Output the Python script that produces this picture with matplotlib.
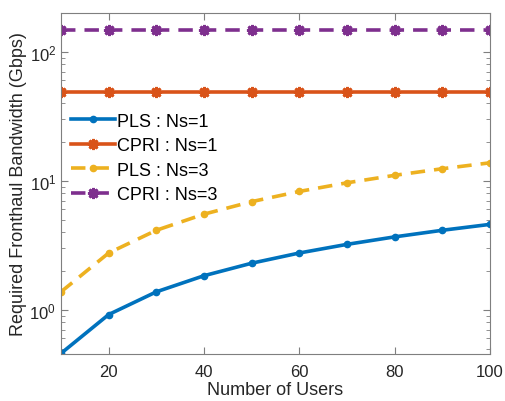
import matplotlib
matplotlib.use("Agg")
import matplotlib.pyplot as plt
from matplotlib.ticker import LogLocator, NullFormatter, NullLocator

plt.rcParams["font.family"] = ["Liberation Sans", "DejaVu Sans"]
plt.rcParams["mathtext.fontset"] = "custom"
plt.rcParams["mathtext.rm"] = "Liberation Sans"
plt.rcParams["mathtext.it"] = "Liberation Sans:italic"

users = [10, 20, 30, 40, 50, 60, 70, 80, 90, 100]
pls_ns1 = [0.46, 0.92, 1.38, 1.84, 2.30, 2.76, 3.22, 3.68, 4.14, 4.60]
cpri_ns1 = [49.2] * 10
pls_ns3 = [1.38, 2.76, 4.14, 5.52, 6.90, 8.28, 9.66, 11.04, 12.42, 13.80]
cpri_ns3 = [147.5] * 10
labels = ["PLS : Ns=1", "CPRI : Ns=1", "PLS : Ns=3", "CPRI : Ns=3"]

fig = plt.figure(figsize=(5.06, 4.02), dpi=100)
ax = fig.add_axes([61/506, 1 - 355/402, (490-61)/506, (355-14)/402])

star = (8, 2, 0)
ax.plot(users, pls_ns1, color="#0072BD", lw=2.6, marker=".", ms=9, label=labels[0])
ax.plot(users, cpri_ns1, color="#D95319", lw=2.6, marker=star, ms=8, mew=2, label=labels[1])
ax.plot(users, pls_ns3, color="#EDB120", lw=2.6, ls=(0, (4, 2.5)), marker=".", ms=9, label=labels[2])
ax.plot(users, cpri_ns3, color="#7E2F8E", lw=2.6, ls=(0, (4, 2.5)), marker=star, ms=8, mew=2, label=labels[3])

ax.set_yscale("log")
ax.set_xlim(10, 100)
ax.set_ylim(0.455, 200)
ax.set_xticks([20, 40, 60, 80, 100])
ax.xaxis.set_minor_locator(NullLocator())
ax.yaxis.set_major_locator(LogLocator(base=10, numticks=10))
ax.yaxis.set_minor_locator(LogLocator(base=10, subs=range(2, 10), numticks=20))
ax.yaxis.set_minor_formatter(NullFormatter())

for s in ax.spines.values():
    s.set_color("#7f7f7f")
    s.set_linewidth(0.8)
ax.tick_params(which="both", direction="in", top=True, right=True, colors="#7f7f7f",
               labelcolor="#262626", labelsize=12)
ax.tick_params(which="major", length=5)
ax.tick_params(which="minor", length=3)
ax.tick_params(axis="x", pad=7)

ax.set_xlabel("Number of Users", fontsize=13, color="#262626", labelpad=2)
ax.set_ylabel("Required Fronthaul Bandwidth (Gbps)", fontsize=13, color="#262626", labelpad=2)

leg = ax.legend(loc="upper left", bbox_to_anchor=(-0.005, 0.745), frameon=False, fontsize=13,
                handlelength=2.4, handletextpad=0.1, labelspacing=0.42, borderaxespad=0.3)

fig.savefig("out.png", dpi=100)
